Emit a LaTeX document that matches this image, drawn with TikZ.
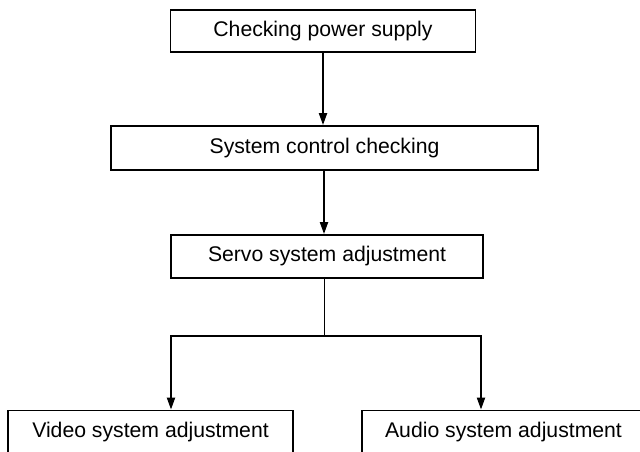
\documentclass[tikz,border=0pt]{standalone}
\usepackage{fontspec}
\setmainfont{Liberation Sans}
\usetikzlibrary{arrows.meta}
\begin{document}
\begin{tikzpicture}[x=1pt,y=-1pt,
  box/.style={draw=black,line width=1.8pt,minimum height=43pt,inner sep=0pt,
    font=\fontsize{21.2}{24}\selectfont,text=black},
  conn/.style={draw=black,line width=2pt,-{Triangle[length=12pt,width=8pt]}},
  thin/.style={draw=black,line width=0.9pt}]
\useasboundingbox (0,0) rectangle (640,452);
\fill[white] (0,0) rectangle (640,452);
\node[box,minimum width=305pt,minimum height=42pt] (b1) at (323,31) {Checking power supply};
\node[box,minimum width=427pt,minimum height=44pt] (b2) at (324.5,148) {System control checking};
\node[box,minimum width=312pt,minimum height=43pt] (b3) at (327,256.5) {Servo system adjustment};
\node[box,minimum width=285pt] (v) at (150.5,432) {Video system adjustment};
\node[box,minimum width=283pt] (a) at (503.5,432) {Audio system adjustment};
\coordinate (j) at (324,336);
\draw[conn] (b1.south) -- (b1.south |- b2.north);
\draw[conn] ([xshift=-0.5pt]b2.south) -- ([xshift=-0.5pt]b2.south |- b3.north);
\draw[thin] (b3.south -| j) -- (j);
\draw[conn] (j) -| ([xshift=20.5pt]v.north);
\draw[conn] (j) -| ([xshift=-22.5pt]a.north);
\end{tikzpicture}
\end{document}
